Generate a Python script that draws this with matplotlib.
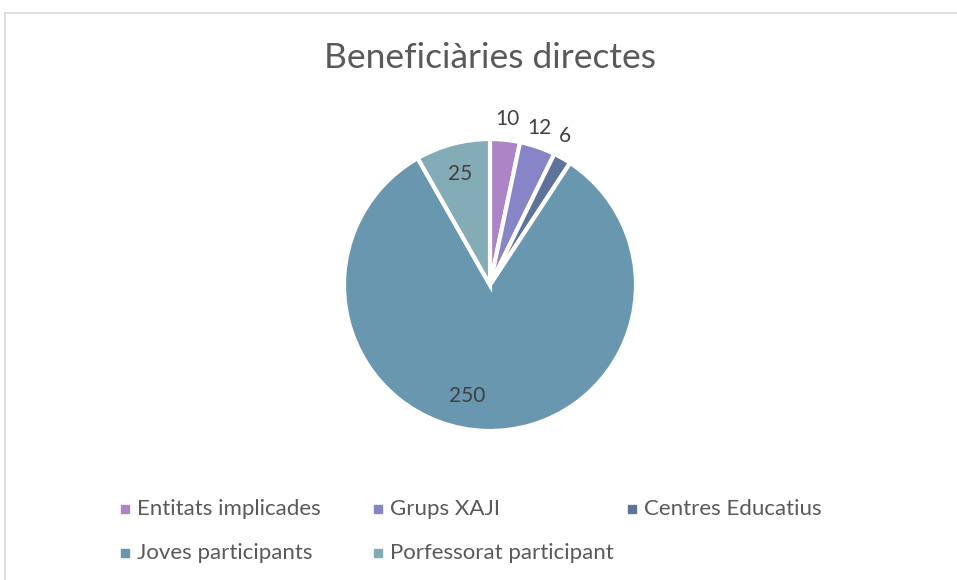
import numpy as np
import matplotlib.pyplot as plt
from matplotlib.patches import Rectangle
from matplotlib.lines import Line2D

plt.rcParams['font.family'] = ['Lato', 'DejaVu Sans']

# data
categories = ['Entitats implicades', 'Grups XAJI', 'Centres Educatius',
              'Joves participants', 'Porfessorat participant']
values = [10, 12, 6, 250, 25]
colors = ['#AD84C6', '#8784C7', '#5D739A', '#6997AF', '#84ACB6']

W, H = 957, 580
fig = plt.figure(figsize=(W / 100, H / 100), dpi=100)

# chart border (only top and left visible in the crop)
fig.add_artist(Line2D([5 / W, 1], [1 - 13 / H, 1 - 13 / H], color='#D9D9D9', lw=1.2))
fig.add_artist(Line2D([5 / W, 5 / W], [0, 1 - 13 / H], color='#D9D9D9', lw=1.2))

# pie axes: centre (490, 285), radius 146 px
cx, cy, r = 490, 285, 146
ax = fig.add_axes([(cx - r) / W, (H - cy - r) / H, 2 * r / W, 2 * r / H])
wedges, _ = ax.pie(values, colors=colors, startangle=90, counterclock=False,
                   wedgeprops=dict(edgecolor='white', linewidth=3))
ax.set_xlim(-1, 1)
ax.set_ylim(-1, 1)
ax.set_aspect('equal')
ax.axis('off')

# data labels
label_dist = [1.14, 1.13, 1.14, 0.78, 0.79]
angle_shift = [0, 1.5, 3, -10, 0]
for w, v, d, s in zip(wedges, values, label_dist, angle_shift):
    ang = np.deg2rad((w.theta1 + w.theta2) / 2 + s)
    ax.text(d * np.cos(ang), d * np.sin(ang), str(v), ha='center', va='center',
            fontsize=15, color='#404040', clip_on=False)

fig.text(cx / W, 1 - 58 / H, 'Beneficiàries directes', ha='center', va='center',
         fontsize=25.5, color='#595959')

# legend
leg_pos = [(125, 509), (378, 509), (632, 509), (125, 553), (378, 553)]
for (lx, ly), name, c in zip(leg_pos, categories, colors):
    fig.add_artist(Rectangle(((lx - 4) / W, 1 - (ly + 4) / H), 8 / W, 8 / H,
                             color=c, transform=fig.transFigure))
    fig.text((lx + 12) / W, 1 - ly / H, name, ha='left', va='center',
             fontsize=16, color='#595959')

fig.savefig('out.png', dpi=100)
